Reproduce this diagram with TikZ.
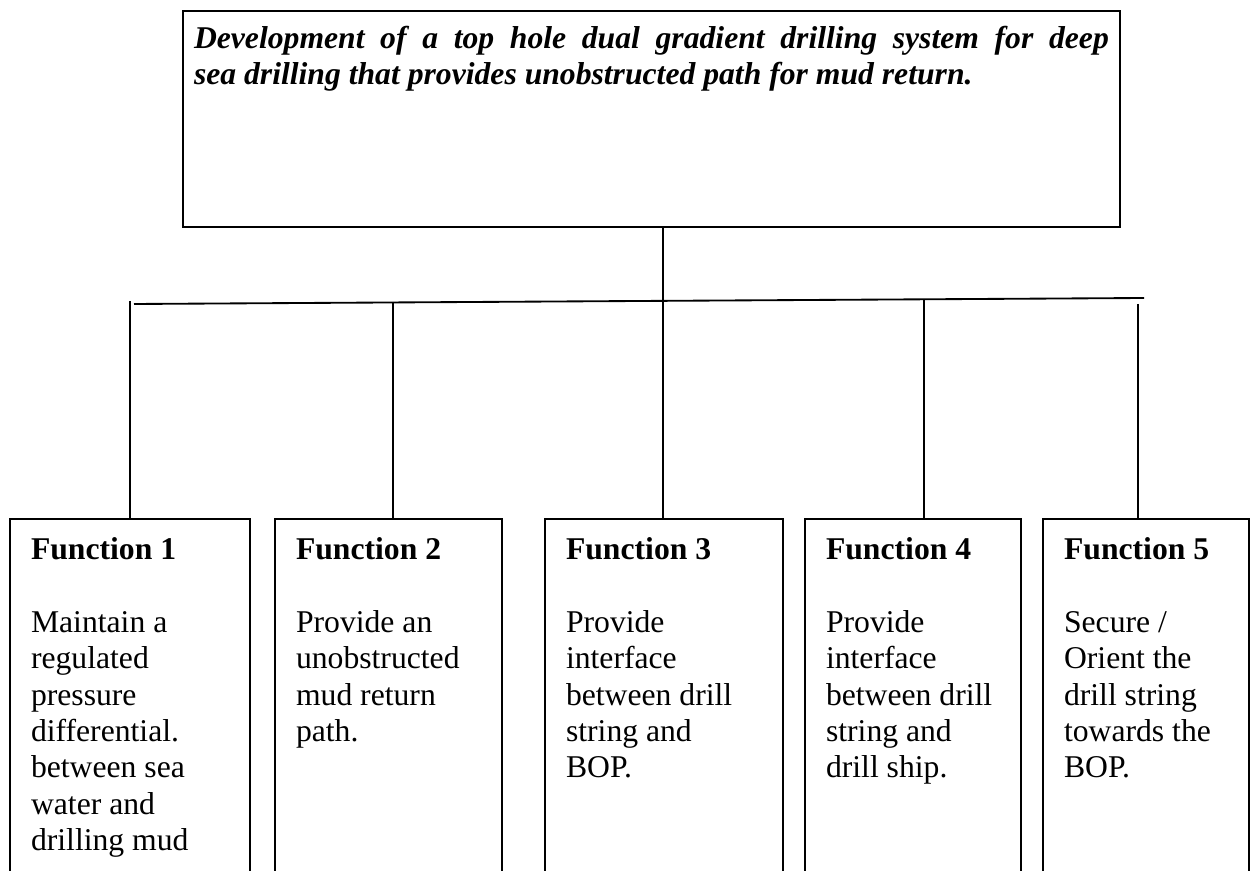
\documentclass[tikz,border=0pt]{standalone}
\usepackage{fontspec}
\setmainfont{Liberation Serif}
\definecolor{ink}{RGB}{0,0,0}
\tikzset{
  goalbox/.style={draw=ink, line width=0.7pt, anchor=north west,
    inner xsep=4.2pt, inner ysep=5.7pt,
    font=\bfseries\itshape\fontsize{12}{13.8}\selectfont},
  fnbox/.style={draw=ink, line width=0.7pt, anchor=north west,
    inner xsep=8pt, inner ysep=7pt, font=\fontsize{12}{13.8}\selectfont},
  link/.style={draw=ink, line width=0.7pt}
}
% one function box: name, left x, width (px), text
\newcommand{\fnbox}[4]{%
  \pgfmathsetlengthmacro{\fnw}{#3*0.379pt-16pt}%
  \node[fnbox] (#1) at (#2,518) {\parbox[t][127pt][t]{\fnw}{#4}};}

\begin{document}
\begin{tikzpicture}[x=0.379pt,y=-0.379pt]
  \useasboundingbox (0,0) rectangle (1252,871);
  \clip (0,0) rectangle (1252,871);
  % goal
  \node[goalbox] (goal) at (182,10) {\parbox[t][70.5pt][t]{346.7pt}{%
    \makebox[\linewidth][s]{Development of a top hole dual gradient drilling system for deep}\\
    sea drilling that provides unobstructed path for mud return.}};
  % five functions
  \fnbox{f1}{9}{240}{\textbf{Function 1}\\[\baselineskip]Maintain a\\regulated\\pressure\\differential.\\between sea\\water and\\drilling mud}
  \fnbox{f2}{274}{227}{\textbf{Function 2}\\[\baselineskip]Provide an\\unobstructed\\mud return\\path.}
  \fnbox{f3}{544}{238}{\textbf{Function 3}\\[\baselineskip]Provide\\interface\\between drill\\string and\\BOP.}
  \fnbox{f4}{804}{216}{\textbf{Function 4}\\[\baselineskip]Provide\\interface\\between drill\\string and\\drill ship.}
  \fnbox{f5}{1042}{206}{\textbf{Function 5}\\[\baselineskip]Secure /\\Orient the\\drill string\\towards the\\BOP.}
  % bus line and drops
  \coordinate (busL) at (134,304);
  \coordinate (busR) at (1144,298);
  \draw[link] (busL) -- (busR);
  \coordinate (d1) at (130,301);
  \coordinate (d2) at (393,302);
  \coordinate (d3) at (663,301);
  \coordinate (d4) at (924,300);
  \coordinate (d5) at (1138,304);
  \draw[link] (goal.south -| d3) -- (d3);
  \foreach \i in {1,...,5}
    \draw[link] (d\i) -- (f\i.north -| d\i);
\end{tikzpicture}
\end{document}
